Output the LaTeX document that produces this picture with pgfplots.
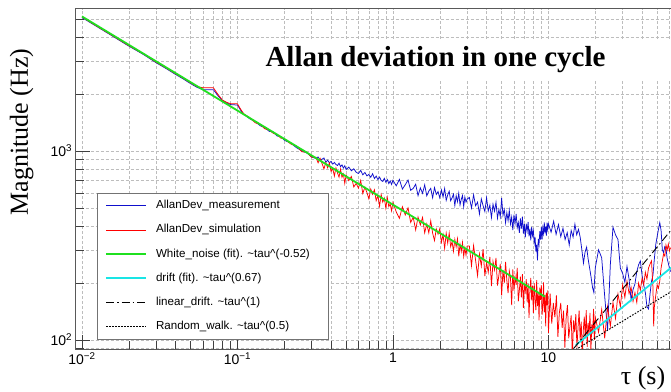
\documentclass[border=0pt]{standalone}
\usepackage{fontspec}
\setmainfont{Liberation Serif}
\setsansfont{Liberation Sans}
\usepackage{pgfplots}
\usepackage{pgfplotstable}
\pgfplotsset{compat=1.18}

\definecolor{measblue}{rgb}{0.06,0.06,0.80}
\definecolor{simred}{rgb}{1,0,0}
\definecolor{fitgreen}{rgb}{0.12,0.88,0.12}
\definecolor{fitcyan}{rgb}{0.10,0.90,0.90}
\definecolor{gridgray}{gray}{0.74}

% Allan deviation of the measured frequency record
\pgfplotstableread{
tau adev
0.010 5080
0.012 4640
0.015 4150
0.020 3590
0.025 3230
0.030 2930
0.035 2720
0.040 2540
0.045 2400
0.050 2270
0.055 2170
0.060 2110
0.070 2110
0.075 1960
0.080 1850
0.085 1800
0.090 1760
0.100 1750
0.105 1640
0.110 1560
0.120 1480
0.130 1430
0.140 1360
0.150 1330
0.160 1270
0.170 1260
0.180 1200
0.190 1190
0.200 1140
0.220 1100
0.240 1040
0.260 1000
0.280 975
0.300 930
0.32 912
0.33 930
0.34 896
0.35 905
0.36 918
0.37 872
0.38 894
0.39 866
0.40 880
0.41 852
0.42 870
0.43 848
0.44 838
0.45 862
0.46 826
0.47 844
0.48 812
0.49 835
0.50 798
0.52 822
0.54 786
0.56 805
0.58 772
0.60 760
0.62 790
0.64 748
0.66 770
0.68 738
0.70 752
0.72 726
0.74 758
0.76 715
0.78 736
0.80 705
0.82 728
0.84 698
0.86 690
0.88 716
0.90 684
0.92 706
0.94 672
0.96 694
0.98 665
1.00 700
1.05 654
1.10 708
1.15 629
1.20 663
1.25 702
1.30 619
1.35 634
1.40 667
1.45 580
1.50 638
1.55 597
1.60 662
1.65 579
1.70 613
1.75 634
1.80 565
1.85 640
1.90 589
1.95 610
2.00 565
2.05 622
2.10 571
2.15 633
2.20 548
2.25 586
2.30 612
2.35 545
2.40 565
2.45 591
2.50 514
2.55 580
2.60 539
2.65 598
2.70 518
2.75 555
2.80 581
2.85 507
2.90 571
2.95 536
3.00 556
3.1 568
3.2 499
3.3 586
3.4 513
3.5 536
3.6 464
3.7 558
3.8 513
3.9 478
4.0 566
4.1 481
4.2 517
4.3 444
4.4 523
4.5 480
4.6 535
4.7 441
4.8 490
4.9 449
5.0 564
5.1 457
5.2 490
5.3 417
5.4 472
5.5 428
5.6 486
5.7 411
5.8 447
5.9 382
6.0 460
6.1 413
6.2 464
6.3 393
6.4 418
6.5 369
6.6 440
6.7 388
6.8 449
6.9 366
7.0 411
7.1 349
7.2 412
7.3 378
7.4 421
7.5 353
7.6 388
7.7 337
7.8 397
7.9 357
8.0 378
8.1 326
8.2 351
8.3 294
8.4 319
8.5 264
8.6 343
8.7 321
8.8 376
8.9 340
9.0 396
9.1 340
9.2 391
9.3 367
9.4 419
9.5 367
9.6 399
9.7 357
9.8 417
9.9 386
10.0 411
10.4 372
10.8 425
11.2 362
11.6 408
12.0 352
12.4 390
12.8 340
13.2 370
13.6 318
14.0 380
14.4 350
14.8 410
15.2 360
15.6 385
16.0 350
16.4 300
16.8 255
17.2 292
17.6 310
18.0 268
18.4 240
18.8 215
19.2 190
19.6 178
20.0 240
21 300
22 272
23 170
24 112
25 250
26 395
27 360
28 340
29 240
30 225
31 202
32 245
33 210
34 163
35 185
36 198
37 230
38 250
39 262
40 220
41 195
42 178
43 150
44 146
45 175
46 205
47 220
48 270
49 320
50 352
51 385
52 418
53 380
54 300
55 290
56 312
57 305
58 270
59 255
60 240
61 230
}\measured

% Allan deviation of the simulated record
\pgfplotstableread{
tau adev
0.010 5120
0.012 4660
0.015 4170
0.020 3610
0.025 3250
0.030 2950
0.035 2740
0.040 2560
0.045 2420
0.050 2290
0.055 2190
0.060 2160
0.070 2160
0.075 1990
0.080 1860
0.085 1810
0.090 1780
0.100 1775
0.105 1660
0.110 1570
0.120 1500
0.130 1410
0.140 1380
0.150 1310
0.160 1290
0.170 1240
0.180 1220
0.190 1170
0.200 1160
0.220 1090
0.240 1060
0.260 990
0.280 985
0.300 925
0.32 925
0.33 866
0.34 915
0.35 858
0.36 804
0.37 868
0.38 815
0.39 862
0.40 779
0.41 809
0.42 737
0.43 813
0.44 765
0.45 727
0.46 801
0.47 726
0.48 755
0.49 674
0.50 747
0.52 697
0.54 733
0.56 645
0.58 674
0.60 636
0.62 698
0.64 596
0.66 644
0.68 603
0.70 558
0.72 629
0.74 590
0.76 623
0.78 546
0.80 580
0.82 510
0.84 588
0.86 536
0.88 563
0.90 498
0.92 567
0.94 508
0.96 524
0.98 482
1.00 534
1.05 476
1.10 440
1.15 507
1.20 459
1.25 500
1.30 419
1.35 446
1.40 382
1.45 447
1.50 406
1.55 445
1.60 369
1.65 411
1.70 369
1.75 427
1.80 367
1.85 336
1.90 387
1.95 363
2.00 388
2.05 329
2.10 361
2.15 305
2.20 367
2.25 325
2.30 368
2.35 312
2.40 331
2.45 295
2.50 340
2.55 311
2.60 343
2.65 277
2.70 321
2.75 294
2.80 328
2.85 277
2.90 307
2.95 281
3.00 314
3.1 314
3.2 247
3.3 316
3.4 264
3.5 219
3.6 284
3.7 246
3.8 302
3.9 218
4.0 257
4.1 228
4.2 275
4.3 193
4.4 260
4.5 235
4.6 272
4.7 194
4.8 220
4.9 253
5.0 172
5.1 234
5.2 200
5.3 259
5.4 206
5.5 177
5.6 232
5.7 213
5.8 153
5.9 236
6.0 182
6.1 216
6.2 196
6.3 241
6.4 160
6.5 183
6.6 216
6.7 168
6.8 223
6.9 148
7.0 196
7.1 181
7.2 210
7.3 158
7.4 198
7.5 131
7.6 182
7.7 213
7.8 162
7.9 194
8.0 139
8.1 200
8.2 165
8.3 144
8.4 207
8.5 151
8.6 179
8.7 127
8.8 189
8.9 163
9.0 195
9.1 136
9.2 152
9.3 202
9.4 140
9.5 173
9.6 118
9.7 178
9.8 153
9.9 183
10.0 109
10.25 176
10.50 122
10.75 157
11.00 132
11.25 172
11.50 104
11.75 139
12.00 157
12.25 116
12.50 143
12.75 91
13.00 132
13.25 153
13.50 102
13.75 118
14.00 135
14.25 82
14.50 127
14.75 110
15.00 137
15.25 91
15.50 117
15.75 143
16.00 100
16.25 125
16.50 82
16.75 112
17.00 133
17.25 102
17.50 144
17.75 92
18.00 123
18.25 108
18.50 139
18.75 87
19.00 121
19.25 108
19.50 146
19.75 100
20.00 132
21 110
22 145
23 102
24 150
25 118
26 158
27 130
28 175
29 150
30 196
31 168
32 205
33 176
34 190
35 160
36 178
37 158
38 200
39 184
40 212
41 196
42 228
43 210
44 240
45 252
46 262
47 190
47.5 118
48 150
49 172
50 196
51 188
52 205
53 240
54 262
55 285
56 278
57 318
58 300
59 322
60 296
61 308
}\simulated

\begin{document}
\begin{tikzpicture}
\begin{axis}[
  name=ax,
  scale only axis,
  width=595.4pt, height=340.4pt,
  xmode=log, ymode=log,
  xmin=0.0091, xmax=61.4,
  ymin=89.6, ymax=5667,
  xtick={0.01,0.1,1,10},
  xticklabels={10\textsuperscript{−2},10\textsuperscript{−1},1,10},
  minor xtick={0.02,0.03,0.04,0.05,0.06,0.07,0.08,0.09,
               0.2,0.3,0.4,0.5,0.6,0.7,0.8,0.9,
               2,3,4,5,6,7,8,9,20,30,40,50,60},
  ytick={100,1000},
  yticklabels={10\textsuperscript{2},10\textsuperscript{3}},
  minor ytick={90,200,300,400,500,600,700,800,900,2000,3000,4000,5000},
  xtick pos=bottom, ytick pos=left,
  tick align=inside,
  major tick length=14pt, minor tick length=8pt,
  tick style={black!75, line width=0.5pt},
  axis line style={black!65, line width=0.6pt},
  grid=both,
  major grid style={gridgray, dash pattern=on 3pt off 2pt, line width=0.45pt},
  minor grid style={gridgray, dash pattern=on 3pt off 2pt, line width=0.45pt},
  tick label style={font=\fontsize{14}{14}\selectfont\sffamily},
  every axis y label/.style={at={(axis description cs:0,0.6375)}, xshift=-54pt,
    rotate=90, anchor=center, font=\fontsize{26}{26}\selectfont},
  every axis x label/.style={at={(axis description cs:0.953,0)}, yshift=-29pt,
    anchor=center, font=\fontsize{26}{26}\selectfont},
  ylabel={Magnitude (Hz)},
  xlabel={τ (s)},
  legend cell align=left,
  legend image code/.code={\draw[#1] (0pt,0pt) -- (40pt,0pt);},
  legend style={
    at={(0.0359,0.4583)}, anchor=north west,
    draw=black!55, line width=0.5pt, fill=white,
    font=\fontsize{11.6}{12}\selectfont\sffamily,
    inner xsep=8pt, inner ysep=7pt,
    row sep=13.2pt,
    nodes={inner sep=0pt, text height=8.5pt, text depth=2.5pt},
    /tikz/every odd column/.append style={column sep=9pt},
  },
]
\addplot[measblue, line width=0.75pt] table[x=tau, y=adev] {\measured};
\addlegendentry{AllanDev\_measurement}
\addplot[simred, line width=0.75pt] table[x=tau, y=adev] {\simulated};
\addlegendentry{AllanDev\_simulation}
% white-noise fit over the short-tau range
\addplot[fitgreen, line width=1.8pt] coordinates {(0.01,5150) (9.5,169.4)};
\addlegendentry{White\_noise (fit). \textasciitilde tau\textasciicircum(-0.52)\hspace*{10pt}}
% drift fit over the long-tau range
\addplot[fitcyan, line width=1.8pt] coordinates {(15.0,94) (61.4,241)};
\addlegendentry{drift (fit). \textasciitilde tau\textasciicircum(0.67)}
\addplot[black, line width=0.9pt, dash pattern=on 8pt off 3pt on 1.5pt off 3pt]
  coordinates {(14.5,90) (61.4,381)};
\addlegendentry{linear\_drift. \textasciitilde tau\textasciicircum(1)}
\addplot[black, line width=1pt, dash pattern=on 1.5pt off 1.5pt]
  coordinates {(15.0,89) (61.4,180)};
\addlegendentry{Random\_walk. \textasciitilde tau\textasciicircum(0.5)}
% title pad
\fill[white] (rel axis cs:0.2157,0.7932) rectangle (rel axis cs:1,0.9078);
\node[anchor=base, font=\fontsize{29}{29}\selectfont\bfseries]
  at (rel axis cs:0.6045,0.8293) {Allan deviation in one cycle};
\end{axis}
\pgfresetboundingbox
\path[use as bounding box] (ax.south west) ++(-75.6pt,-43pt)
  rectangle ([yshift=8.6pt]ax.north east);
\end{tikzpicture}
\end{document}
